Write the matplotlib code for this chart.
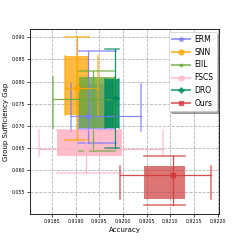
import matplotlib
matplotlib.use("Agg")
import matplotlib.pyplot as plt
from matplotlib.patches import Rectangle
from matplotlib.lines import Line2D

methods = ["ERM", "SNN", "EIIL", "FSCS", "DRO", "Ours"]
colors = ["#7a7aff", "#ffa500", "#6aaa3a", "#ffb6c6", "#008b5e", "#d03a3a"]
markers = ["*", "o", ".", "o", "P", "s"]

acc_center = [0.91926, 0.91903, 0.91936, 0.91921, 0.91984, 0.92105]
acc_min = [0.91890, 0.91877, 0.91852, 0.91822, 0.91962, 0.91993]
acc_q1 = [0.91904, 0.91877, 0.91906, 0.91861, 0.91962, 0.92045]
acc_q3 = [0.91985, 0.91927, 0.91982, 0.91998, 0.91991, 0.92131]
acc_max = [0.92037, 0.91948, 0.91982, 0.92085, 0.91991, 0.92185]

gap_center = [0.07226, 0.07850, 0.07609, 0.06477, 0.07639, 0.05887]
gap_min = [0.06609, 0.06677, 0.06421, 0.05926, 0.06496, 0.05203]
gap_q1 = [0.06895, 0.07248, 0.06962, 0.06308, 0.06962, 0.05353]
gap_q3 = [0.07948, 0.08586, 0.08113, 0.06910, 0.08060, 0.06083]
gap_max = [0.08692, 0.09000, 0.08248, 0.06910, 0.08744, 0.06316]

rect_alpha = [0.7, 0.75, 0.8, 0.9, 0.85, 0.7]

fig = plt.figure(figsize=(2.45, 2.45), dpi=100)
ax = fig.add_axes([0.124, 0.125, 0.770, 0.755])

for i, m in enumerate(methods):
    c = colors[i]
    ax.add_patch(Rectangle((acc_q1[i], gap_q1[i]), acc_q3[i] - acc_q1[i],
                           gap_q3[i] - gap_q1[i], facecolor=c, edgecolor="none",
                           alpha=rect_alpha[i], zorder=1))

for i, m in enumerate(methods):
    c = colors[i]
    # whiskers
    ax.plot([acc_min[i], acc_max[i]], [gap_center[i], gap_center[i]], color=c, lw=0.9, alpha=0.9, zorder=2)
    ax.plot([acc_center[i], acc_center[i]], [gap_min[i], gap_max[i]], color=c, lw=0.9, alpha=0.9, zorder=2)
    # caps
    for xv in (acc_min[i], acc_max[i]):
        ax.plot([xv, xv], [gap_q1[i], gap_q3[i]], color=c, lw=1.1, alpha=0.75, zorder=2)
    for yv in (gap_min[i], gap_max[i]):
        ax.plot([acc_q1[i], acc_q3[i]], [yv, yv], color=c, lw=1.1, alpha=0.75, zorder=2)
    ax.plot([acc_center[i]], [gap_center[i]], marker=markers[i], color=c, ms=3.5, zorder=3, lw=0)

handles = [Line2D([0], [0], color=colors[i], marker=markers[i], ms=3.5, lw=1.5, alpha=0.7)
           for i in range(len(methods))]
leg = ax.legend(handles, methods, loc="upper right", fontsize=5.5, shadow=True,
                framealpha=1, handlelength=2.4, handletextpad=0.6, borderaxespad=0.3,
                fancybox=True)
leg.get_frame().set_linewidth(0.5)

ax.set_xlim(0.91804, 0.92203)
ax.set_ylim(0.0500, 0.0918)
ax.set_xticks([0.9185, 0.9190, 0.9195, 0.9200, 0.9205, 0.9210, 0.9215, 0.9220])
ax.set_yticks([0.055, 0.060, 0.065, 0.070, 0.075, 0.080, 0.085, 0.090])
ax.set_xticklabels(["%.4f" % v for v in ax.get_xticks()])
ax.set_yticklabels(["%.3f" % v for v in ax.get_yticks()])
ax.tick_params(labelsize=3.4, length=2, width=0.5, pad=1.5)
ax.grid(True, linestyle="--", color="gray", alpha=0.6, lw=0.6)
ax.set_axisbelow(True)
for s in ax.spines.values():
    s.set_linewidth(0.6)
ax.set_xlabel("Accuracy", fontsize=5, labelpad=2)
ax.set_ylabel("Group Sufficiency Gap", fontsize=5, labelpad=2)

fig.savefig("out.png", dpi=100)
